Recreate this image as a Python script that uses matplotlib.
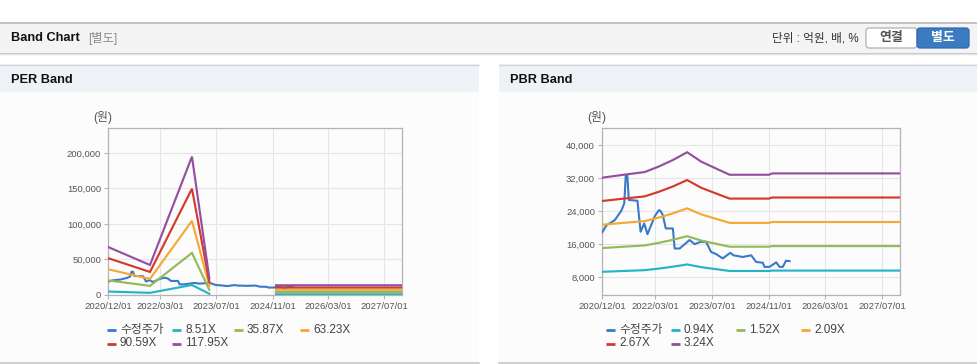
import numpy as np
import pandas as pd
import matplotlib
matplotlib.use('Agg')
import matplotlib.pyplot as plt
from matplotlib.patches import Rectangle, FancyBboxPatch
from matplotlib.ticker import FuncFormatter

plt.rcParams['font.family'] = ['Liberation Sans', 'Noto Sans CJK KR']

# ---- data ----
# adjusted share price (수정주가), shared by both charts
price_dates = ['2020-12-01', '2021-01-10', '2021-03-20', '2021-05-16', '2021-06-10',
               '2021-06-23', '2021-07-06', '2021-07-19', '2021-10-01', '2021-10-28',
               '2021-11-28', '2021-12-26', '2022-02-27', '2022-04-04', '2022-04-18',
               '2022-05-07', '2022-06-01', '2022-08-01', '2022-08-16', '2022-09-28',
               '2022-12-22', '2023-02-04', '2023-03-25', '2023-05-13', '2023-06-25',
               '2023-08-07', '2023-10-02', '2023-12-06', '2024-01-03', '2024-03-22',
               '2024-06-03', '2024-07-15', '2024-09-10', '2024-09-25', '2024-11-07',
               '2025-01-03', '2025-02-01', '2025-03-01', '2025-03-28', '2025-04-28']
price_values = [18800, 20600, 21800, 24100, 25900,
                32700, 32700, 26700, 26500, 19000,
                21000, 18400, 22800, 24250, 24000,
                23000, 19800, 19800, 14950, 14950,
                17000, 16000, 16550, 16550, 14100,
                13600, 12550, 13900, 13300, 12900,
                13300, 11700, 11500, 10500, 10500,
                11600, 10500, 10500, 12000, 11900]

# PER band: EPS per date (NaN = gap in the band lines)
per_dates = ['2020-12-01', '2021-12-01', '2022-12-01', '2023-05-01',
             '2024-06-01', '2024-12-01', '2027-12-01']
per_eps = [573, 358, 1651, 200, np.nan, 116, 116]
per_multiples = [8.51, 35.87, 63.23, 90.59, 117.95]

# PBR band: BPS per date
pbr_dates = ['2020-12-01', '2021-07-01', '2021-12-01', '2022-04-01', '2022-08-01',
             '2022-12-01', '2023-04-01', '2023-09-01', '2023-12-01', '2024-11-01',
             '2024-12-01', '2027-12-01']
pbr_bps = [9900, 10150, 10320, 10730, 11220,
           11800, 11100, 10480, 10120, 10120,
           10220, 10220]
pbr_multiples = [0.94, 1.52, 2.09, 2.67, 3.24]

x_ticks = ['2020-12-01', '2022-03-01', '2023-07-01', '2024-11-01', '2026-03-01', '2027-07-01']
per_yticks = [0, 50000, 100000, 150000, 200000]
pbr_yticks = [8000, 16000, 24000, 32000, 40000]

price_label = '수정주가'
price_color = '#3a78c9'
band_colors = ['#25b4c6', '#94ba58', '#f4a937', '#d33a2c', '#94509f']

W, H = 978, 364


def px_axes(fig, left, top, right, bottom):
    # axes placed by pixel box (y measured from the top)
    return fig.add_axes([left / W, 1 - bottom / H, (right - left) / W, (bottom - top) / H])


def draw_band_chart(ax, dates, base, multiples, ylim, yticks):
    d = pd.to_datetime(dates)
    base = np.array(base, dtype=float)

    ax.plot(pd.to_datetime(price_dates), price_values, color=price_color, lw=1.5, zorder=3)
    for m, c in zip(multiples, band_colors):
        ax.plot(d, base * m, color=c, lw=1.55, zorder=4, solid_joinstyle='miter')

    ax.set_xlim(pd.Timestamp('2020-12-01'), pd.Timestamp('2027-12-01'))
    ax.set_ylim(*ylim)
    ax.set_xticks(pd.to_datetime(x_ticks))
    ax.set_xticklabels([t.replace('-', '/') for t in x_ticks])
    ax.set_yticks(yticks)
    ax.yaxis.set_major_formatter(FuncFormatter(lambda v, p: f'{int(v):,}'))

    ax.grid(True, color='#e6e6e6', lw=0.8, zorder=0)
    ax.set_axisbelow(True)
    for s in ax.spines.values():
        s.set_color('#b4b4b4')
        s.set_linewidth(0.9)
    ax.tick_params(length=3, width=0.8, color='#b4b4b4', labelsize=6.8,
                   labelcolor='#555555', pad=2)
    ax.set_facecolor('none')


def draw_legend(bg, items, y_rows):
    # items: (text x, row, label, colour)
    for x, row, label, color in items:
        y = y_rows[row]
        bg.plot([x - 13, x - 4], [y, y], color=color, lw=2, solid_capstyle='butt')
        bg.text(x, y, label, fontsize=8.5, color='#444444', va='center', ha='left')


fig = plt.figure(figsize=(W / 100, H / 100), dpi=100)
bg = fig.add_axes([0, 0, 1, 1])
bg.set_xlim(0, W)
bg.set_ylim(H, 0)
bg.axis('off')

# top header bar
bg.add_patch(Rectangle((0, 22), W, 30, facecolor='#f4f4f4', edgecolor='none'))
bg.plot([0, W], [22.5, 22.5], color='#b8b8b8', lw=1.2)
bg.plot([0, W], [52.5, 52.5], color='#c4c4c4', lw=1.0)
bg.plot([0, W], [53.5, 53.5], color='#e4e4e4', lw=1.0)
bg.text(11, 38, 'Band Chart', fontsize=9.2, fontweight='bold', va='center', color='#111111')
bg.text(88, 38.5, '[별도]', fontsize=8.8, va='center', color='#8a8a8a')
bg.text(859, 38.5, '단위 : 억원, 배, %', fontsize=8.4, va='center', ha='right', color='#333333')
bg.add_patch(FancyBboxPatch((866, 28), 51, 20, boxstyle='round,pad=0,rounding_size=3',
                            facecolor='white', edgecolor='#b0b0b0', lw=0.9))
bg.add_patch(FancyBboxPatch((917, 28), 52, 20, boxstyle='round,pad=0,rounding_size=3',
                            facecolor='#3b7bc2', edgecolor='#2f6aae', lw=0.9))
bg.text(891.5, 38.5, '연결', fontsize=9.3, fontweight='bold', ha='center', va='center', color='#555555')
bg.text(943, 38.5, '별도', fontsize=9.3, fontweight='bold', ha='center', va='center', color='white')

# two panels
for x0, x1, title in [(0, 479, 'PER Band'), (499, 978, 'PBR Band')]:
    bg.add_patch(Rectangle((x0, 64), x1 - x0, 28, facecolor='#eef2f7', edgecolor='none'))
    bg.add_patch(Rectangle((x0, 92), x1 - x0, 271, facecolor='#fcfcfc', edgecolor='none'))
    bg.plot([x0, x1], [64.5, 64.5], color='#d6d6d6', lw=1.0)
    bg.plot([x0, x1], [363, 363], color='#c8c8c8', lw=1.2)
    bg.text(x0 + 11, 80, title, fontsize=9.2, fontweight='bold', va='center', color='#111111')

bg.text(93, 118, '(원)', fontsize=8.6, va='center', color='#555555')
bg.text(587, 118, '(원)', fontsize=8.6, va='center', color='#555555')

# charts
ax_per = px_axes(fig, 108, 128, 402, 295)
draw_band_chart(ax_per, per_dates, per_eps, per_multiples, (0, 235000), per_yticks)

ax_pbr = px_axes(fig, 602, 128, 900, 295)
draw_band_chart(ax_pbr, pbr_dates, pbr_bps, pbr_multiples, (3700, 44100), pbr_yticks)

# legends
rows = [330, 343.5]
per_items = [(120, 0, price_label, price_color)]
per_xs = [(185, 0), (247, 0), (313, 0), (120, 1), (185, 1)]
for (x, r), m, c in zip(per_xs, per_multiples, band_colors):
    per_items.append((x, r, f'{m:.2f}X', c))
draw_legend(bg, per_items, rows)

pbr_items = [(619, 0, price_label, price_color)]
pbr_xs = [(684, 0), (749, 0), (814, 0), (619, 1), (684, 1)]
for (x, r), m, c in zip(pbr_xs, pbr_multiples, band_colors):
    pbr_items.append((x, r, f'{m:.2f}X', c))
draw_legend(bg, pbr_items, rows)

fig.savefig('out.png', dpi=100)
